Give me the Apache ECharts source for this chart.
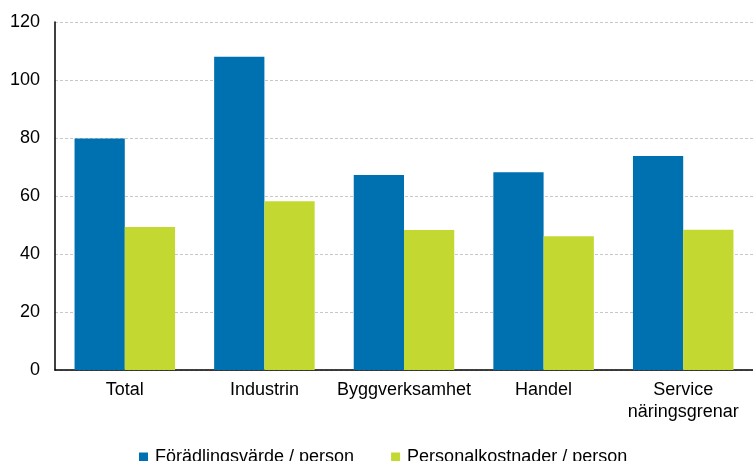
<!DOCTYPE html>
<html>
<head>
<meta charset="utf-8">
<script src="https://cdn.jsdelivr.net/npm/echarts@6/dist/echarts.min.js"></script>
<style>
  html, body { margin: 0; padding: 0; background: #fff; }
  #main { width: 753px; height: 461px; }
</style>
</head>
<body>
<div id="main"></div>
<script>
var categories = ['Total', 'Industrin', 'Byggverksamhet', 'Handel', 'Service\nnäringsgrenar'];
var forädling = [79.8, 108, 67.2, 68.2, 73.8];
var personal = [49.3, 58.2, 48.3, 46.1, 48.4];
var yTicks = { min: 0, max: 120, interval: 20 };

var myChart = echarts.init(document.getElementById('main'));
var font = 'Liberation Sans, Arial, sans-serif';
var option = {
  animation: false,
  grid: { left: 55, right: 0, top: 22, bottom: 91 },
  legend: {
    data: ['Förädlingsvärde / person', 'Personalkostnader / person'],
    top: 443,
    left: 134,
    icon: 'rect',
    itemWidth: 9,
    itemHeight: 9,
    itemGap: 37,
    textStyle: { fontFamily: font, fontSize: 18, color: '#000', padding: [0, 0, 0, 2] }
  },
  xAxis: {
    type: 'category',
    data: categories,
    axisTick: { show: false },
    axisLine: { lineStyle: { color: '#000', width: 1.5 } },
    axisLabel: { fontFamily: font, fontSize: 18, color: '#000', margin: 9, lineHeight: 22, interval: 0 }
  },
  yAxis: {
    type: 'value',
    min: yTicks.min, max: yTicks.max, interval: yTicks.interval,
    axisLine: { show: true, lineStyle: { color: '#000', width: 1.5 } },
    axisTick: { show: false },
    axisLabel: { fontFamily: font, fontSize: 18, color: '#000', margin: 15 },
    splitLine: { lineStyle: { color: '#c8c8c8', type: [3, 2] } }
  },
  series: [
    {
      name: 'Förädlingsvärde / person',
      type: 'bar',
      data: forädling,
      barGap: '0%',
      barCategoryGap: '28%',
      itemStyle: { color: '#0071b0' }
    },
    {
      name: 'Personalkostnader / person',
      type: 'bar',
      data: personal,
      itemStyle: { color: '#c3d830' }
    }
  ]
};
myChart.setOption(option);
</script>
</body>
</html>
